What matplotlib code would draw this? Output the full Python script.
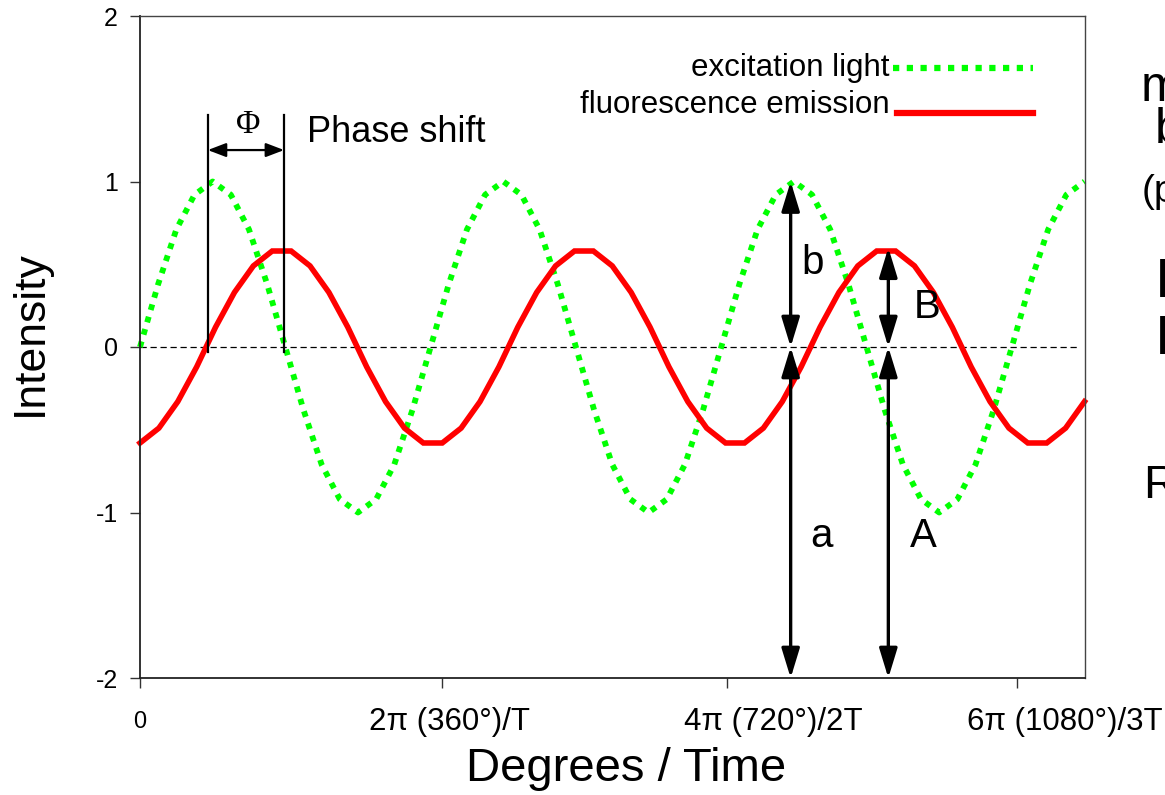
import matplotlib
matplotlib.use('Agg')
import matplotlib.pyplot as plt

plt.rcParams['font.family'] = ['Liberation Sans', 'DejaVu Sans']
plt.rcParams['axes.unicode_minus'] = False

# excitation light, sampled every 22.5 degrees
green_deg = [0, 22.5, 45, 67.5, 90, 112.5, 135, 157.5, 180, 202.5, 225, 247.5,
             270, 292.5, 315, 337.5, 360, 382.5, 405, 427.5, 450, 472.5, 495,
             517.5, 540, 562.5, 585, 607.5, 630, 652.5, 675, 697.5, 720, 742.5,
             765, 787.5, 810, 832.5, 855, 877.5, 900, 922.5, 945, 967.5, 990,
             1012.5, 1035, 1057.5, 1080, 1102.5, 1125, 1147.5, 1170]
green_val = [0, 0.38, 0.71, 0.92, 1, 0.92, 0.71, 0.38, 0, -0.38, -0.71, -0.92,
             -1, -0.92, -0.71, -0.38, 0, 0.38, 0.71, 0.92, 1, 0.92, 0.71, 0.38,
             0, -0.38, -0.71, -0.92, -1, -0.92, -0.71, -0.38, 0, 0.38, 0.71,
             0.92, 1, 0.92, 0.71, 0.38, 0, -0.38, -0.71, -0.92, -1, -0.92,
             -0.71, -0.38, 0, 0.38, 0.71, 0.92, 1]

# fluorescence emission
red_deg = [0, 23.4, 46.8, 70.2, 93.6, 117, 140.4, 163.8, 187.2, 210.6, 234,
           257.4, 280.8, 304.2, 327.6, 351, 374.4, 397.8, 421.2, 444.6, 468,
           491.4, 514.8, 538.2, 561.6, 585, 608.4, 631.8, 655.2, 678.6, 702,
           725.4, 748.8, 772.2, 795.6, 819, 842.4, 865.8, 889.2, 912.6, 936,
           959.4, 982.8, 1006.2, 1029.6, 1053, 1076.4, 1099.8, 1123.2, 1146.6,
           1170]
red_val = [-0.58, -0.49, -0.33, -0.12, 0.12, 0.33, 0.49, 0.58, 0.58, 0.49,
           0.33, 0.12, -0.12, -0.33, -0.49, -0.58, -0.58, -0.49, -0.33, -0.12,
           0.12, 0.33, 0.49, 0.58, 0.58, 0.49, 0.33, 0.12, -0.12, -0.33,
           -0.49, -0.58, -0.58, -0.49, -0.33, -0.12, 0.12, 0.33, 0.49, 0.58,
           0.58, 0.49, 0.33, 0.12, -0.12, -0.33, -0.49, -0.58, -0.58, -0.49,
           -0.33]

y_ticks = [-2, -1, 0, 1, 2]
x_ticks = [0, 374, 727, 1086]
x_tick_labels = ['0', '2\u03c0 (360\u00b0)/T', '4\u03c0 (720\u00b0)/2T', '6\u03c0 (1080\u00b0)/3T']
x_label_pos = [0, 384, 784, 1146]

phase_x = [84, 178.5]   # zero crossings used for the phase shift marker
b_x, B_x = 806, 927      # positions of the amplitude arrows

W, H = 1165, 795
fig = plt.figure(figsize=(W / 100, H / 100), dpi=100)
ax = fig.add_axes([140 / W, 1 - 678 / H, 944.5 / W, 662 / H])

ax.axhline(0, xmax=0.992, color='black', lw=0.9, ls=(0, (5, 3)))

ax.plot(green_deg, green_val, color='#00ff00', lw=4.2,
        ls=(0, (1, 1.2)), dash_capstyle='butt', clip_on=False)
ax.plot(red_deg, red_val, color='#ff0000', lw=4, solid_joinstyle='miter',
        clip_on=False)

ax.set_xlim(0, 1170)
ax.set_ylim(-2, 2)
ax.set_yticks(y_ticks)
ax.set_yticklabels([str(v) for v in y_ticks])
ax.set_xticks(x_ticks)
ax.set_xticklabels([''] * len(x_ticks))
ax.tick_params(axis='y', direction='out', length=7, width=1, color='#333333',
               labelsize=18, pad=9)
ax.tick_params(axis='x', direction='out', length=7, width=1, color='#333333')
for side in ['left', 'bottom']:
    ax.spines[side].set_color('#222222')
    ax.spines[side].set_linewidth(1.3)
for side in ['top', 'right']:
    ax.spines[side].set_color('#444444')
    ax.spines[side].set_linewidth(1.0)

# x tick labels (placed as in the original slide)
for pos, lab in zip(x_label_pos, x_tick_labels):
    ax.text(pos, -0.066, lab, transform=ax.get_xaxis_transform(),
            ha='center', va='center', fontsize=17 if lab == '0' else 22.5)

# phase shift marker
for px in phase_x:
    ax.plot([px, px], [-0.03, 1.40], color='black', lw=1.6)
ax.annotate('', xy=(phase_x[1], 1.19), xytext=(phase_x[0], 1.19),
            arrowprops=dict(arrowstyle='<|-|>,head_length=1.1,head_width=0.42',
                            mutation_scale=10, color='black', lw=1.6,
                            shrinkA=0, shrinkB=0))
ax.text(sum(phase_x) / 2 + 3, 1.34, '\u03a6', fontsize=24, ha='center',
        va='center', family=['Liberation Serif', 'DejaVu Serif'])
ax.text(207, 1.24, 'Phase shift', fontsize=26, ha='left', va='baseline')

# amplitude arrows
arrow_kw = dict(arrowstyle='<|-|>,head_length=1.8,head_width=0.55',
                mutation_scale=10, color='black', lw=2.4, shrinkA=0, shrinkB=0)
ax.annotate('', xy=(b_x, max(green_val)), xytext=(b_x, 0), arrowprops=arrow_kw)
ax.annotate('', xy=(b_x, -2), xytext=(b_x, 0), arrowprops=arrow_kw)
ax.annotate('', xy=(B_x, max(red_val) + 0.02), xytext=(B_x, 0), arrowprops=arrow_kw)
ax.annotate('', xy=(B_x, -2), xytext=(B_x, 0), arrowprops=arrow_kw)
ax.text(833, 0.51, 'b', fontsize=29, ha='center', va='center')
ax.text(975, 0.24, 'B', fontsize=29, ha='center', va='center')
ax.text(844, -1.14, 'a', fontsize=29, ha='center', va='center')
ax.text(970, -1.14, 'A', fontsize=29, ha='center', va='center')

# legend drawn in place
ax.text(928, 1.685, 'excitation light', fontsize=22.5, ha='right', va='center')
ax.text(928, 1.46, 'fluorescence emission', fontsize=22.5, ha='right', va='center')
ax.plot([933, 1106], [1.685, 1.685], color='#00ff00', lw=4.5,
        ls=(0, (1, 1.2)), dash_capstyle='butt', clip_on=False)
ax.plot([938, 1106], [1.415, 1.415], color='#ff0000', lw=4.5, clip_on=False)

# axis titles
fig.text(30 / W, 1 - 333 / H, 'Intensity', rotation=90, fontsize=32,
         ha='center', va='center')
fig.text(626 / W, 1 - 769 / H, 'Degrees / Time', fontsize=34,
         ha='center', va='center')

# text block at the right edge of the slide (cut off)
side_text = [(1141, 88, 'm', 36), (1155, 130, 'b', 36), (1142, 192, '(p', 28),
             (1155, 283, 'I', 40), (1155, 340, 'I', 40), (1143, 486, 'R', 34)]
for sx, sy, s, fs in side_text:
    fig.text(sx / W, 1 - sy / H, s, fontsize=fs, ha='left', va='center')

fig.savefig('out.png', dpi=100)
